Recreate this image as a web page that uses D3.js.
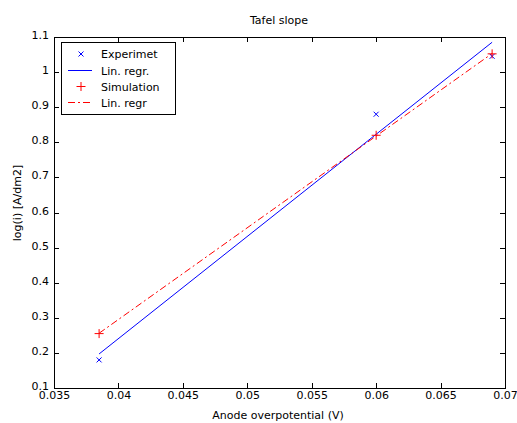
<!DOCTYPE html>
<html>
<head>
<meta charset="utf-8">
<script src="https://cdn.jsdelivr.net/npm/d3@7"></script>
<style>
  body { margin: 0; background: #fff; }
  text { font-family: "DejaVu Sans", sans-serif; font-size: 11px; fill: #000; }
</style>
</head>
<body>
<div id="plot"></div>
<script>
// Data
const expX = [0.0385, 0.06, 0.069];
const expY = [0.18, 0.88, 1.045];
const simX = [0.0385, 0.06, 0.069];
const simY = [0.255, 0.82, 1.052];
const expFit = [[0.0385, 0.197], [0.069, 1.085]];
const simFit = [[0.0385, 0.256], [0.069, 1.053]];
const xTicks = [0.035, 0.04, 0.045, 0.05, 0.055, 0.06, 0.065, 0.07];
const yTicks = [0.1, 0.2, 0.3, 0.4, 0.5, 0.6, 0.7, 0.8, 0.9, 1, 1.1];
const legendLabels = ["Experimet", "Lin. regr.", "Simulation", "Lin. regr"];

const width = 517, height = 423;

const svg = d3.select("#plot")
    .append("svg")
    .attr("width", width)
    .attr("height", height);

const x = d3.scaleLinear().domain([0.035, 0.07]).range([54, 505]);
const y = d3.scaleLinear().domain([0.1, 1.1]).range([388, 37]);

const x0 = x.range()[0], x1 = x.range()[1];
const y0 = y.range()[0], y1 = y.range()[1];

// Ticks on all four sides, pointing inward
const tl = 5;
const axisStyle = g => {
    g.select(".domain").remove();
    g.attr("font-family", null).attr("font-size", null);
    g.selectAll(".tick line").attr("stroke", "#000").attr("shape-rendering", "crispEdges");
};
svg.append("g")
    .attr("transform", `translate(0,${y0})`)
    .call(d3.axisBottom(x).tickValues(xTicks).tickSize(-tl).tickPadding(3).tickFormat(d => d))
    .call(axisStyle);
svg.append("g")
    .attr("transform", `translate(0,${y1})`)
    .call(d3.axisTop(x).tickValues(xTicks).tickSize(-tl).tickFormat(""))
    .call(axisStyle);
svg.append("g")
    .attr("transform", `translate(${x0},0)`)
    .call(d3.axisLeft(y).tickValues(yTicks).tickSize(-tl).tickPadding(5).tickFormat(d => d))
    .call(axisStyle)
    .selectAll(".tick text").attr("dy", "0.14em");
svg.append("g")
    .attr("transform", `translate(${x1},0)`)
    .call(d3.axisRight(y).tickValues(yTicks).tickSize(-tl).tickFormat(""))
    .call(axisStyle);

// Box
svg.append("rect")
    .attr("x", x0 + 0.5).attr("y", y1 + 0.5)
    .attr("width", x1 - x0).attr("height", y0 - y1)
    .attr("fill", "none").attr("stroke", "#000");

const line = d3.line().x(d => x(d[0])).y(d => y(d[1]));

// Regression lines
svg.append("path").datum(expFit)
    .attr("d", line).attr("fill", "none").attr("stroke", "#0000ff").attr("stroke-width", 1);
svg.append("path").datum(simFit)
    .attr("d", line).attr("fill", "none").attr("stroke", "#ff0000").attr("stroke-width", 1)
    .attr("stroke-dasharray", "7,3,2,3");

// Markers
const cross = (g, cx, cy, s, color) => {
    g.append("path")
        .attr("d", `M${cx - s},${cy - s}L${cx + s},${cy + s}M${cx - s},${cy + s}L${cx + s},${cy - s}`)
        .attr("stroke", color).attr("fill", "none");
};
const plus = (g, cx, cy, s, color) => {
    g.append("path")
        .attr("d", `M${cx - s},${cy}L${cx + s},${cy}M${cx},${cy - s}L${cx},${cy + s}`)
        .attr("stroke", color).attr("fill", "none");
};
expX.forEach((v, i) => cross(svg, x(v), y(expY[i]), 2.5, "#0000ff"));
simX.forEach((v, i) => plus(svg, x(v), y(simY[i]), 4.5, "#ff0000"));

// Title and axis labels
svg.append("text").attr("x", 279).attr("y", 24)
    .attr("text-anchor", "middle").text("Tafel slope");
svg.append("text").attr("x", 278).attr("y", 419)
    .attr("text-anchor", "middle").text("Anode overpotential (V)");
svg.append("text")
    .attr("transform", "translate(21,203) rotate(-90)")
    .attr("text-anchor", "middle").text("log(i) [A/dm2]");

// Legend
const lg = svg.append("g");
lg.append("rect").attr("x", 61.5).attr("y", 42.5).attr("width", 114).attr("height", 72)
    .attr("fill", "#fff").attr("stroke", "#000");
const rowY = [54, 70.5, 86.5, 102.5];
legendLabels.forEach((t, i) => {
    lg.append("text").attr("x", 101).attr("y", rowY[i] + 4).text(t);
});
cross(lg, 81, rowY[0], 2.5, "#0000ff");
lg.append("line").attr("x1", 68).attr("x2", 92).attr("y1", rowY[1]).attr("y2", rowY[1])
    .attr("stroke", "#0000ff");
plus(lg, 81, rowY[2], 4.5, "#ff0000");
lg.append("line").attr("x1", 68).attr("x2", 92).attr("y1", rowY[3]).attr("y2", rowY[3])
    .attr("stroke", "#ff0000").attr("stroke-dasharray", "7,3,2,3");
</script>
</body>
</html>
